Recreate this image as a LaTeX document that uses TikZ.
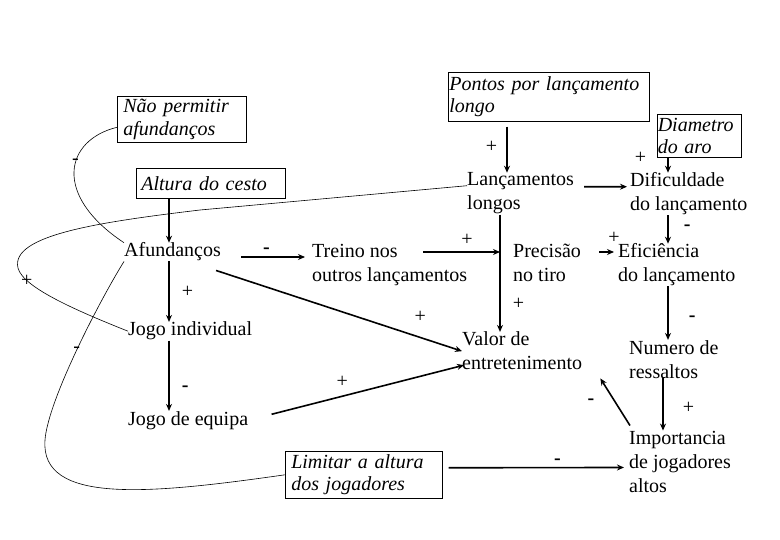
\documentclass[tikz,border=0pt]{standalone}
\usepackage{fontspec}
\setmainfont{Liberation Serif}
\usetikzlibrary{arrows.meta,calc}

\begin{document}
\begin{tikzpicture}[x=1pt,y=-1pt,
  var/.style={anchor=base west,align=left,inner sep=0pt,
    font=\fontsize{20}{24}\selectfont},
  lever/.style={draw,line width=.6pt,anchor=north west,align=left,
    inner ysep=2pt,font=\fontsize{20}{22.5}\selectfont\itshape},
  sign/.style={inner sep=0pt,font=\fontsize{20}{24}\selectfont},
  arr/.style={line width=1.6pt,-{Stealth[length=7pt,width=6pt]}},
  link/.style={line width=.6pt}]
  \useasboundingbox (0,0) rectangle (780,540);

  % policy boxes
  \node[lever,text width=117pt,inner xsep=6pt,minimum height=46pt] (nao) at (117,96) {Não permitir\\afundanços};
  \node[lever,text width=139pt,inner xsep=5pt,minimum height=30pt] (altura) at (136,168) {Altura do cesto};
  \node[lever,text width=199pt,inner xsep=1pt,minimum height=49pt] (pontos) at (448,72) {Pontos por lançamento\\longo};
  \node[lever,text width=83pt,inner xsep=.5pt,minimum height=43pt] (diam) at (657,114) {Diametro\\do aro};
  \node[lever,text width=145pt,inner xsep=6pt,minimum height=47pt] (limitar) at (285,451) {Limitar a altura\\dos jogadores};

  % variables (placed at the baseline of their last line)
  \node[var] (lanc) at (467,210) {Lançamentos\\longos};
  \node[var] (dific) at (630,211) {Dificuldade\\do lançamento};
  \node[var] (afund) at (124,257) {Afundanços};
  \node[var] (treino) at (312,282) {Treino nos\\outros lançamentos};
  \node[var] (precisao) at (513,282) {Precisão\\no tiro};
  \node[var] (efic) at (618,282) {Eficiência\\do lançamento};
  \node[var] (jogoind) at (128,336) {Jogo individual};
  \node[var] (jogoeq) at (128,425) {Jogo de equipa};
  \node[var] (valor) at (462,370) {Valor de\\entretenimento};
  \node[var] (numero) at (629,378) {Numero de\\ressaltos};
  \node[var] (import) at (629,492) {Importancia\\de jogadores\\altos};

  \coordinate (laxis) at (169,0);
  \coordinate (maxis) at (500,0);
  \coordinate (paxis) at (507,0);
  \coordinate (raxis) at (668,0);

  % causal links
  \draw[arr,shorten <=5pt] (paxis |- pontos.south) -- (paxis |- lanc.north) node[sign,midway,left=9pt] {+};
  \draw[arr] (raxis |- diam.south) -- (raxis |- dific.north) node[sign,pos=0,left=21pt] {+};
  \draw[arr] ($(lanc.north east)+(10,14)$) -- ($(dific.north west)+(-3,14)$);
  \draw[arr] (laxis |- altura.south) -- (laxis |- afund.north);
  \draw[arr,shorten <=20pt,shorten >=7pt] (afund.base east) -- (afund.base east -| treino.west) node[sign,midway,above=3pt] {\textbf{-}};
  \draw[arr] ($(afund.south east)+(-5,9)$) -- (valor.west) node[sign,pos=.83,above=14pt] {+};
  \draw[arr] (laxis |- afund.south) -- (laxis |- jogoind.north) node[sign,midway,right=12pt] {+};
  \draw[arr] (laxis |- jogoind.south) -- (laxis |- jogoeq.north) node[sign,pos=.68,right=12pt] {\textbf{-}};
  \draw[arr,shorten <=24pt] (jogoeq.east) -- ($(valor.west)+(2,14)$) node[sign,pos=.435,above=8pt] {+};
  \draw[arr] ($(treino.base west)+(111,-30)$) -- ($(precisao.base west)+(-13,-30)$) node[sign,pos=.57,above=6pt] {+};
  \draw[arr] (maxis |- lanc.south) -- (maxis |- valor.north) node[sign,pos=.76,right=12pt] {+};
  \draw[arr] ($(precisao.base east)+(18,-30)$) -- ($(efic.base west)+(-4,-30)$) node[sign,pos=1,above=8pt] {+};
  \draw[arr] (raxis |- dific.south) -- (raxis |- efic.north) node[sign,pos=.42,right=15pt] {\textbf{-}};
  \draw[arr] (raxis |- efic.south) -- (raxis |- numero.north) node[sign,pos=.6,right=20pt] {\textbf{-}};
  \draw[arr] ($(numero.south west)+(34,0)$) -- ($(import.north west)+(34,0)$) node[sign,pos=.56,right=19pt] {+};
  \draw[arr] ($(import.north west)+(1,-5)$) -- ($(valor.south east)+(18,8)$) node[sign,midway,left=20pt] {\textbf{-}};
  \draw[arr] ($(limitar.east)+(6,-7)$) -- ($(import.west)+(-5,6)$) node[sign,pos=.62,above=2pt] {\textbf{-}};

  % long loops
  \draw[link] ($(nao.west)+(0,8)$) .. controls (65,140) and (52,195) .. node[sign,pos=.42] {-} (afund.north west);
  \draw[link] ($(lanc.north west)+(0,13)$) -- (200,210) .. controls (100,222) and (10,235) .. (18,268)
    .. controls (23,288) and (80,312) .. node[sign,pos=.2] {+} (jogoind.west);
  \draw[link] (limitar.west) .. controls (150,494) and (40,505) .. (45,440)
    .. controls (48,400) and (100,300) .. node[sign,pos=.5] {-} (afund.south west);
\end{tikzpicture}
\end{document}
